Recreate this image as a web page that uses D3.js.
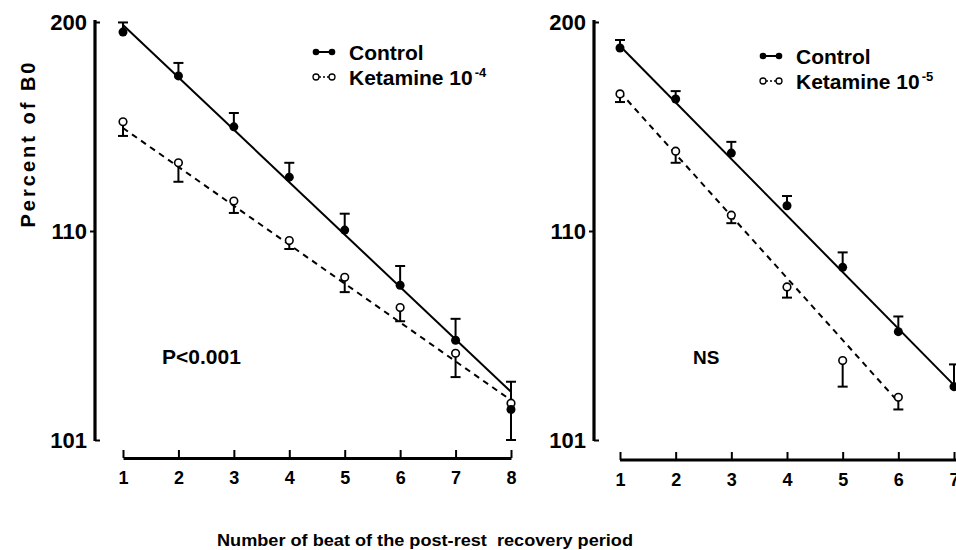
<!DOCTYPE html>
<html><head><meta charset="utf-8">
<script src="https://cdn.jsdelivr.net/npm/d3@7"></script>
<style>
body{margin:0;background:#fff;}
text{font-family:"Liberation Sans",Arial,Helvetica,sans-serif;font-weight:bold;fill:#000;}
</style></head>
<body><svg id="c" width="956" height="550"></svg>
<script>
// ---- data ----
const beatsL = [1,2,3,4,5,6,7,8];
const controlL = [189.5,155.2,131.5,118.1,110.1,105.5,103.0,101.4];
const controlLErr = [199.5,163.7,136.7,121.2,112.1,106.8,103.8,101.9];
const ketL = [133.3,121.2,113.9,109.0,106.0,104.3,102.6,101.5];
const ketLErr = [128.5,117.2,112.2,108.2,105.1,103.7,102.0,101.0];
const fitBeatsL = [1,8];
const fitControlL = [196.8,101.7];
const fitKetL = [131.1,101.55];

const beatsR = [1,2,3,4,5,6,7];
const controlR = [175.1,142.8,123.6,113.2,106.7,103.3,101.8];
const controlRErr = [182.0,146.7,126.7,114.7,107.9,103.9,102.3];
const beatsKetR = [1,2,3,4,5,6];
const ketR = [145.3,124.1,111.9,105.4,102.4,101.6];
const ketRErr = [141.4,121.2,110.9,104.8,101.8,101.4];
const fitBeatsCR = [1,7];
const fitControlR = [176.8,101.83];
const fitBeatsKR = [1,6];
const fitKetR = [146.2,101.52];

const yTicks = [101,110,200];
const yTitle = "Percent of B0";
const xTitle = "Number of beat of the post-rest  recovery period";
const legendControl = "Control";
const legendKet = "Ketamine 10";
const supL = "-4", supR = "-5";
const statL = "P<0.001", statR = "NS";

// ---- drawing ----
const svg = d3.select("#c");
const y = d3.scaleLog().domain([1,100]).range([440,22]);
const Y = v => y(v-100);

function panel(opt){
  const g = svg.append("g");
  const x = d3.scaleLinear().domain(opt.xdom).range(opt.xrange);
  // y axis
  const ya = g.append("g").attr("transform",`translate(${opt.yx},0)`)
    .call(d3.axisLeft(y).tickValues(yTicks.map(v=>v-100)).tickFormat(v=>String(Math.round(v+100))).tickSize(5).tickSizeOuter(0).tickPadding(3));
  ya.select(".domain").attr("stroke-width",3.2).attr("d",`M0,${y(100)-2}V${y(1)+1}`);
  ya.selectAll(".tick line").attr("stroke-width",2);
  ya.selectAll(".tick text").attr("font-size",22).attr("font-family","Liberation Sans, Arial").attr("font-weight","bold").attr("dy","0.36em");
  ya.selectAll(".tick").filter(d=>d!==10).select("line").attr("x2",5);
  // x axis
  const xa = g.append("g").attr("transform",`translate(0,${opt.xy})`)
    .call(d3.axisBottom(x).ticks(opt.xdom[1]-opt.xdom[0]).tickFormat(d3.format("d")).tickSizeInner(-8).tickSizeOuter(0).tickPadding(13));
  xa.select(".domain").attr("stroke-width",3);
  xa.selectAll(".tick line").attr("stroke-width",2);
  xa.selectAll(".tick text").attr("font-size",18).attr("font-family","Liberation Sans, Arial").attr("font-weight","bold");
  if(opt.xext){ xa.select(".domain").attr("d",`M${opt.xrange[0]},0H${opt.xext}`); }

  const line = d3.line().x(d=>x(d[0])).y(d=>Y(d[1]));
  // fit lines
  g.append("path").attr("d",line(opt.fitCB.map((b,i)=>[b,opt.fitC[i]])))
    .attr("fill","none").attr("stroke","#000").attr("stroke-width",2);
  g.append("path").attr("d",line(opt.fitKB.map((b,i)=>[b,opt.fitK[i]])))
    .attr("fill","none").attr("stroke","#000").attr("stroke-width",2).attr("stroke-dasharray","6,5");
  // error bars
  function errs(bs,vals,ends){
    bs.forEach((b,i)=>{
      const xx=x(b), y1=Y(vals[i]), y2=Y(ends[i]);
      g.append("line").attr("x1",xx).attr("x2",xx).attr("y1",y1).attr("y2",y2).attr("stroke","#000").attr("stroke-width",2);
      g.append("line").attr("x1",xx-5).attr("x2",xx+5).attr("y1",y2).attr("y2",y2).attr("stroke","#000").attr("stroke-width",2);
    });
  }
  errs(opt.cb,opt.c,opt.ce);
  errs(opt.kb,opt.k,opt.ke);
  // points
  g.selectAll(".k").data(opt.kb.map((b,i)=>[b,opt.k[i]])).join("circle")
    .attr("cx",d=>x(d[0])).attr("cy",d=>Y(d[1])).attr("r",3.8)
    .attr("fill","#fff").attr("stroke","#000").attr("stroke-width",1.6);
  g.selectAll(".c").data(opt.cb.map((b,i)=>[b,opt.c[i]])).join("circle")
    .attr("cx",d=>x(d[0])).attr("cy",d=>Y(d[1])).attr("r",4.5).attr("fill","#000");
  // legend
  const lx=opt.lx, ly=opt.ly, gap=25;
  g.append("line").attr("x1",lx).attr("x2",lx+16).attr("y1",ly).attr("y2",ly).attr("stroke","#000").attr("stroke-width",2);
  g.append("circle").attr("cx",lx).attr("cy",ly).attr("r",3.3).attr("fill","#000");
  g.append("circle").attr("cx",lx+16).attr("cy",ly).attr("r",3.3).attr("fill","#000");
  g.append("line").attr("x1",lx+3).attr("x2",lx+13).attr("y1",ly+gap).attr("y2",ly+gap).attr("stroke","#000").attr("stroke-width",1.5).attr("stroke-dasharray","2,2");
  g.append("circle").attr("cx",lx).attr("cy",ly+gap).attr("r",3).attr("fill","#fff").attr("stroke","#000").attr("stroke-width",1.3);
  g.append("circle").attr("cx",lx+16).attr("cy",ly+gap).attr("r",3).attr("fill","#fff").attr("stroke","#000").attr("stroke-width",1.3);
  g.append("text").attr("x",lx+33).attr("y",ly).attr("dy","0.36em").attr("font-size",21).text(legendControl);
  const t=g.append("text").attr("x",lx+33).attr("y",ly+gap).attr("dy","0.36em").attr("font-size",21).text(legendKet);
  t.append("tspan").attr("font-size",13).attr("dy","-0.55em").attr("dx","2").text(opt.sup);
  // stat text
  g.append("text").attr("x",opt.sx).attr("y",opt.sy).attr("dy","0.36em").attr("font-size",opt.sfs).text(opt.stat);
}

panel({xdom:[1,8],xrange:[123,511],xy:458,yx:95,
  cb:beatsL,c:controlL,ce:controlLErr,kb:beatsL,k:ketL,ke:ketLErr,
  fitCB:fitBeatsL,fitC:fitControlL,fitKB:fitBeatsL,fitK:fitKetL,
  lx:316,ly:52,sup:supL,stat:statL,sx:162,sy:356,sfs:21});
panel({xdom:[1,7],xrange:[620,954],xy:460,yx:594,xext:958,
  cb:beatsR,c:controlR,ce:controlRErr,kb:beatsKetR,k:ketR,ke:ketRErr,
  fitCB:fitBeatsCR,fitC:fitControlR,fitKB:fitBeatsKR,fitK:fitKetR,
  lx:763,ly:56,sup:supR,stat:statR,sx:693,sy:357,sfs:19});

svg.append("text").attr("transform","translate(28,145) rotate(-90)").attr("text-anchor","middle").attr("dy","0.36em")
  .attr("font-size",20).attr("textLength",165).attr("lengthAdjust","spacing").text(yTitle);
svg.append("text").attr("x",217).attr("y",540).attr("dy","0.36em").attr("font-size",17)
  .attr("textLength",416).attr("lengthAdjust","spacingAndGlyphs").attr("xml:space","preserve").style("white-space","pre").text(xTitle);
</script></body></html>
